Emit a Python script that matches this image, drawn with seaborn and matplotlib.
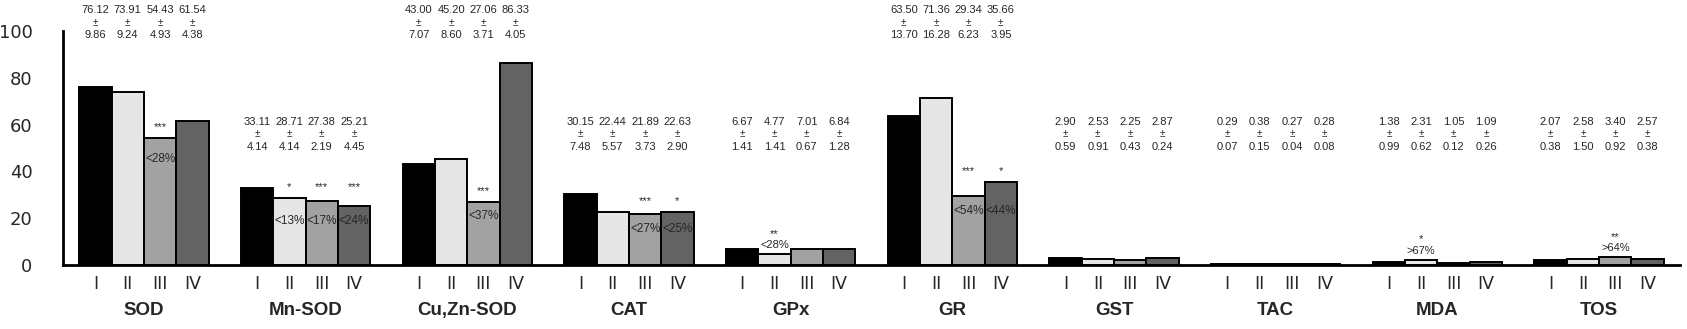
import matplotlib
matplotlib.use("Agg")
import matplotlib.pyplot as plt
import matplotlib.transforms as mtransforms
import numpy as np
import pandas as pd
import seaborn as sns

# ---------------- data ----------------
markers = ["SOD", "Mn-SOD", "Cu,Zn-SOD", "CAT", "GPx", "GR", "GST", "TAC", "MDA", "TOS"]
groups = ["I", "II", "III", "IV"]

mean_I = [76.12, 33.11, 43.00, 30.15, 6.67, 63.50, 2.90, 0.29, 1.38, 2.07]
mean_II = [73.91, 28.71, 45.20, 22.44, 4.77, 71.36, 2.53, 0.38, 2.31, 2.58]
mean_III = [54.43, 27.38, 27.06, 21.89, 7.01, 29.34, 2.25, 0.27, 1.05, 3.40]
mean_IV = [61.54, 25.21, 86.33, 22.63, 6.84, 35.66, 2.87, 0.28, 1.09, 2.57]

sd_I = [9.86, 4.14, 7.07, 7.48, 1.41, 13.70, 0.59, 0.07, 0.99, 0.38]
sd_II = [9.24, 4.14, 8.60, 5.57, 1.41, 16.28, 0.91, 0.15, 0.62, 1.50]
sd_III = [4.93, 2.19, 3.71, 3.73, 0.67, 6.23, 0.43, 0.04, 0.12, 0.92]
sd_IV = [4.38, 4.45, 4.05, 2.90, 1.28, 3.95, 0.24, 0.08, 0.26, 0.38]

# significance marks and percentage changes (per marker, per group I..IV)
sig = [
    ["", "", "***", ""],
    ["", "*", "***", "***"],
    ["", "", "***", ""],
    ["", "", "***", "*"],
    ["", "**", "", ""],
    ["", "", "***", "*"],
    ["", "", "", ""],
    ["", "", "", ""],
    ["", "*", "", ""],
    ["", "", "**", ""],
]
pct = [
    ["", "", "<28%", ""],
    ["", "<13%", "<17%", "<24%"],
    ["", "", "<37%", ""],
    ["", "", "<27%", "<25%"],
    ["", "<28%", "", ""],
    ["", "", "<54%", "<44%"],
    ["", "", "", ""],
    ["", "", "", ""],
    ["", ">67%", "", ""],
    ["", "", ">64%", ""],
]

means = [mean_I, mean_II, mean_III, mean_IV]
sds = [sd_I, sd_II, sd_III, sd_IV]

rows = []
for g, vals in zip(groups, means):
    for m, v in zip(markers, vals):
        rows.append({"marker": m, "group": g, "value": v})
df = pd.DataFrame(rows)

# ---------------- style ----------------
sns.set_style("white")
plt.rcParams["font.family"] = ["Liberation Sans", "DejaVu Sans"]

colors = ["#000000", "#e6e6e6", "#a2a2a2", "#636363"]

fig = plt.figure(figsize=(16.87, 3.29), dpi=100)
ax = fig.add_axes([63 / 1687, (329 - 265) / 329, (1680 - 63) / 1687, (265 - 31) / 329])

sns.barplot(data=df, x="marker", y="value", hue="group", order=markers,
            hue_order=groups, palette=colors, edgecolor="black", linewidth=1.4,
            width=0.8, legend=False, ax=ax, errorbar=None)

ax.set_xlim(-0.5, len(markers) - 0.5)
ax.set_ylim(0, 100)
ax.set_xlabel("")
ax.set_ylabel("")

for s in ["top", "right"]:
    ax.spines[s].set_visible(False)
for s in ["left", "bottom"]:
    ax.spines[s].set_linewidth(2)
    ax.spines[s].set_color("black")

ax.set_yticks([0, 20, 40, 60, 80, 100])
ax.tick_params(axis="y", length=0, pad=22, labelsize=13)
for lab in ax.get_yticklabels():
    lab.set_fontfamily("DejaVu Sans")

# bar centres from the drawn bars
centres = np.zeros((len(groups), len(markers)))
tops = np.zeros((len(groups), len(markers)))
for gi, cont in enumerate(ax.containers):
    for mi, bar in enumerate(cont):
        centres[gi, mi] = bar.get_x() + bar.get_width() / 2
        tops[gi, mi] = bar.get_height()

xt = centres.T.flatten()
ax.set_xticks(xt)
ax.set_xticklabels(groups * len(markers), fontsize=12.5, fontfamily="DejaVu Sans")
ax.tick_params(axis="x", which="major", length=0, pad=7)
ax.set_xticks(np.arange(len(markers)) + 0.5, minor=True)
ax.tick_params(axis="x", which="minor", direction="in", length=5, width=2, color="black")

trans = mtransforms.blended_transform_factory(ax.transData, ax.transAxes)
for mi, m in enumerate(markers):
    ax.text(mi, -0.195, m, transform=trans, ha="center", va="center",
            fontsize=13.5, fontweight="bold")

# mean ± sd annotations
high = {"SOD", "Cu,Zn-SOD", "GR"}
for mi, m in enumerate(markers):
    y0 = 109.0 if m in high else 61.2
    for gi in range(len(groups)):
        x = centres[gi, mi]
        ax.text(x, y0, f"{means[gi][mi]:.2f}", ha="center", va="center", fontsize=8, clip_on=False)
        ax.text(x, y0 - 5.4, "±", ha="center", va="center", fontsize=7, clip_on=False)
        ax.text(x, y0 - 10.9, f"{sds[gi][mi]:.2f}", ha="center", va="center", fontsize=8, clip_on=False)

# significance + percentages
for mi, m in enumerate(markers):
    starred = [gi for gi in range(4) if sig[mi][gi]]
    if not starred:
        continue
    tmax = max(tops[gi, mi] for gi in starred)
    tmin = min(tops[gi, mi] for gi in starred)
    for gi in starred:
        x = centres[gi, mi]
        t = tops[gi, mi]
        if t < 12:
            ax.text(x, t + 3.8, pct[mi][gi], ha="center", va="center", fontsize=8)
            ax.text(x, t + 7.3, sig[mi][gi], ha="center", va="baseline", fontsize=8)
        else:
            off = 9.0 if tmin > 50 else 6.3
            ax.text(x, tmax + 3.2, sig[mi][gi], ha="center", va="baseline", fontsize=8)
            ax.text(x, tmin - off, pct[mi][gi], ha="center", va="center", fontsize=8.5)

fig.savefig("out.png", dpi=100)
